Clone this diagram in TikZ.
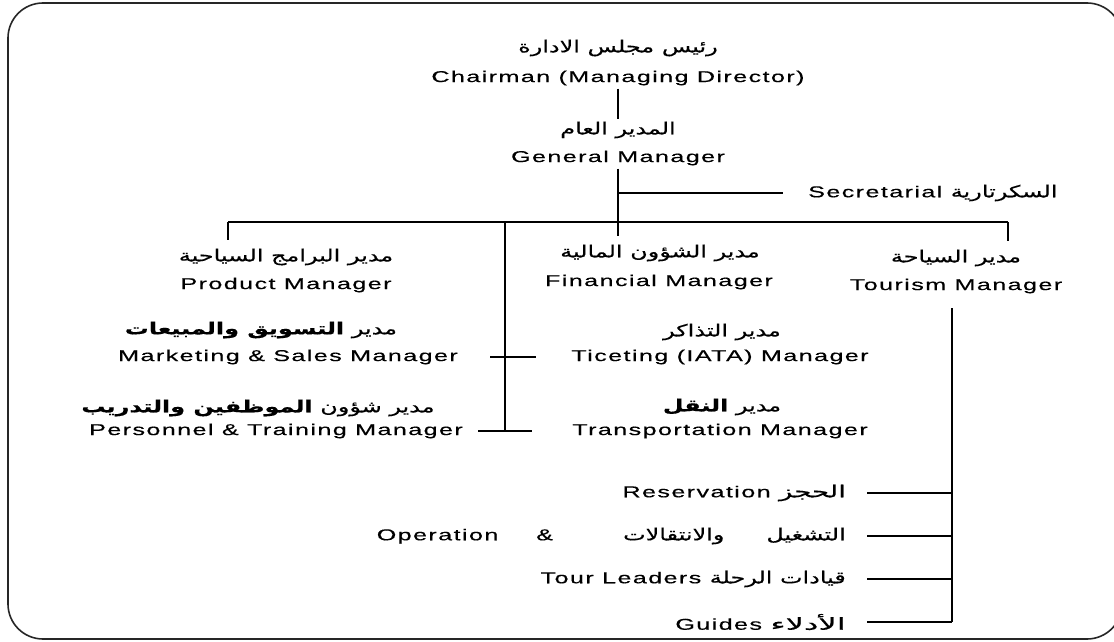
\documentclass[tikz,border=0pt]{standalone}
\usepackage{graphicx}
\usepackage{fontspec}
\setmainfont[FakeStretch=1.6,LetterSpace=9,FakeBold=0.4]{Liberation Sans}
\newfontfamily\arabicfont[Script=Arabic,FakeStretch=1.45,FakeBold=0.4]{DejaVu Sans}
\TeXXeTstate=1
\newcommand{\artext}[1]{{\fontsize{16.5}{20}\selectfont\arabicfont\beginR #1\endR}}
\tikzset{
  en/.style={inner sep=3pt, font=\fontsize{15.7}{18}\selectfont},
  arl/.style={inner sep=3pt},
  link/.style={line width=1.6pt},
  frame/.style={line width=1.6pt, draw=black!85, rounded corners=35pt},
}

\begin{document}
\begin{tikzpicture}[x=1pt, y=-1pt]
\useasboundingbox (0,0) rectangle (1114,642);
\clip (0,0) rectangle (1114,642);
\draw[frame] (8,3) rectangle (1122,639);
\node[arl] (chairar) at (618,48) {\artext{رئيس مجلس الادارة}};
\node[en] (chair) at (618,78) {Chairman (Managing Director)};
\node[arl] (gmar) at (618,130) {\artext{المدير العام}};
\node[en] (gm) at (618,158) {General Manager};
\node[en, anchor=west] (sec) at (805,193) {Secretarial \artext{السكرتارية}};
\node[arl] (prodar) at (286,257) {\artext{مدير البرامج السياحية}};
\node[en] (prod) at (286,285) {Product Manager};
\node[arl] (finar) at (660,253) {\artext{مدير الشؤون المالية}};
\node[en] (fin) at (659,282) {Financial Manager};
\node[arl] (tourar) at (956,258) {\artext{مدير السياحة}};
\node[en] (tour) at (956,286) {Tourism Manager};
\node[arl] (mktar) at (261,330) {\artext{مدير \textbf{التسويق والمبيعات}}};
\node[en] (mkt) at (288,357) {Marketing \& Sales Manager};
\node[arl] (tktar) at (722,332) {\artext{مدير التذاكر}};
\node[en] (tkt) at (720,357) {Ticeting (IATA) Manager};
\node[arl] (persar) at (258,408) {\artext{مدير شؤون \textbf{الموظفين والتدريب}}};
\node[en] (pers) at (276,431) {Personnel \& Training Manager};
\node[arl] (transar) at (722,407) {\artext{مدير \textbf{النقل}}};
\node[en] (trans) at (720,431) {Transportation Manager};
\node[en, anchor=east] (res) at (849,493) {Reservation \scalebox{1.15}[1]{\artext{الحجز}}};
\node[en, anchor=east] (oper) at (849,536) {Operation\hspace{38pt}\&\hspace{70pt}\artext{التشغيل\hspace{42pt}والانتقالات}};
\node[en, anchor=east] (lead) at (849,579) {Tour Leaders \artext{قيادات الرحلة}};
\node[en, anchor=east] (guide) at (849,622) {Guides \scalebox{1.35}[1]{\artext{الأدلاء}}};
\coordinate (busL) at (228,222);
\coordinate (busR) at (1008,222);
\coordinate (busV) at (505,222);
\coordinate (vBot) at (505,431);
\coordinate (secJ) at (618,193);
\coordinate (midEnd) at (618,236);
\coordinate (tvTop) at (952,308);
\coordinate (tvBot) at (952,622);
\draw[link] (chair.south) -- (gmar.north);
\draw[link] (gm.south) -- (midEnd);
\draw[link, shorten >=22pt] (secJ) -- (sec.west);
\draw[link] (busL) -- (busR);
\draw[link, shorten >=6pt] (busL) -- (busL |- prodar.north);
\draw[link, shorten >=6pt] (busR) -- (busR |- tourar.north);
\draw[link] (busV) -- (vBot);
\draw[link, shorten <=29pt, shorten >=32pt] (mkt.east) -- (tkt.west);
\draw[link, shorten <=12pt, shorten >=37pt] (pers.east) -- (trans.west);
\draw[link] (tvTop) -- (tvBot);
\draw[link, shorten <=18pt] (res.east) -- (res.east -| tvTop);
\draw[link, shorten <=18pt] (oper.east) -- (oper.east -| tvTop);
\draw[link, shorten <=18pt] (lead.east) -- (lead.east -| tvTop);
\draw[link, shorten <=18pt] (guide.east) -- (guide.east -| tvTop);
\end{tikzpicture}
\end{document}
